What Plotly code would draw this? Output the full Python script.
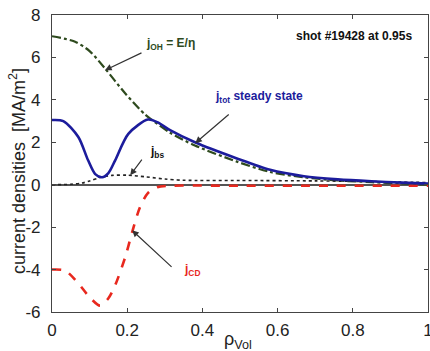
import plotly.graph_objects as go

# --- data ---
rho_tot = [0, 0.03, 0.07, 0.096, 0.115, 0.133, 0.15, 0.168, 0.203, 0.255, 0.28, 0.314, 0.38, 0.49, 0.58, 0.67, 0.76, 0.85, 0.93, 1.0]
j_tot = [3.05, 3.0, 2.25, 1.15, 0.5, 0.35, 0.55, 1.15, 2.4, 3.07, 2.95, 2.57, 2.0, 1.25, 0.7, 0.4, 0.25, 0.16, 0.1, 0.05]

rho_oh = [0, 0.06, 0.1, 0.14, 0.195, 0.248, 0.27, 0.314, 0.38, 0.49, 0.58, 0.67, 0.76, 0.85, 0.93, 1.0]
j_oh = [7.0, 6.75, 6.3, 5.5, 4.3, 3.3, 3.0, 2.45, 1.85, 1.1, 0.6, 0.35, 0.2, 0.12, 0.06, 0.0]

rho_bs = [0, 0.05, 0.08, 0.1, 0.13, 0.16, 0.2, 0.25, 0.3, 0.35, 0.5, 0.7, 0.85, 1.0]
j_bs = [0, 0.02, 0.08, 0.18, 0.35, 0.44, 0.45, 0.37, 0.27, 0.21, 0.2, 0.18, 0.15, 0.1]

rho_cd = [0, 0.035, 0.07, 0.1, 0.128, 0.15, 0.168, 0.195, 0.213, 0.234, 0.255, 0.28, 0.32, 0.5, 0.75, 1.0]
j_cd = [-4.0, -4.05, -4.65, -5.3, -5.7, -5.35, -4.74, -3.4, -2.25, -1.06, -0.4, -0.12, -0.05, -0.05, -0.05, -0.05]

x_ticks = [0, 0.2, 0.4, 0.6, 0.8, 1]
x_ticklabels = ["0", "0.2", "0.4", "0.6", "0.8", "1"]
y_ticks = [-6, -4, -2, 0, 2, 4, 6, 8]
y_ticklabels = ["-6", "-4", "-2", "0", "2", "4", "6", "8"]

FONT = "Liberation Sans, Arial, sans-serif"

fig = go.Figure()
fig.add_trace(go.Scatter(x=rho_oh, y=j_oh, mode="lines", line=dict(color="#2e4a1e", width=2.2, dash="dashdot", shape="spline", smoothing=0.8)))
fig.add_trace(go.Scatter(x=rho_bs, y=j_bs, mode="lines", line=dict(color="#222222", width=1.6, dash="dot", shape="spline", smoothing=0.8)))
fig.add_trace(go.Scatter(x=rho_cd, y=j_cd, mode="lines", line=dict(color="#e8281e", width=2.6, dash="dash", shape="spline", smoothing=0.8)))
fig.add_trace(go.Scatter(x=rho_tot, y=j_tot, mode="lines", line=dict(color="#1c1c9c", width=2.6, shape="spline", smoothing=0.8)))

ann = []
def label(x, y, text, color, anchor="left", size=12):
    ann.append(dict(x=x, y=y, xref="x", yref="y", text=text, showarrow=False,
                    xanchor=anchor, yanchor="middle",
                    font=dict(family=FONT, size=size, color=color)))

def arrow(xh, yh, xt, yt):
    ann.append(dict(x=xh, y=yh, ax=xt, ay=yt, xref="x", yref="y", axref="x", ayref="y",
                    text="", showarrow=True, arrowhead=2, arrowsize=1.1, arrowwidth=1.2,
                    arrowcolor="#333333"))

label(0.245, 6.63, "<b>j<sub>OH</sub> = E/η</b>", "#2e4a1e")
label(0.429, 4.13, "<b>j<sub>tot</sub> steady state</b>", "#1c1c9c")
label(0.256, 1.53, "<b>j<sub>bs</sub></b>", "#111111")
label(0.346, -4.03, "<b>j<sub>CD</sub></b>", "#e8281e")
label(0.964, 7.0, "<b>shot #19428 at 0.95s</b>", "#111111", anchor="right")
arrow(0.141, 5.40, 0.242, 6.25)
arrow(0.381, 1.96, 0.474, 3.37)
arrow(0.208, 0.45, 0.242, 1.25)
arrow(0.213, -2.15, 0.322, -3.94)

# axis titles
ann.append(dict(x=0.495, y=-0.095, xref="paper", yref="paper", text="ρ<sub>Vol</sub>",
                showarrow=False, xanchor="center", yanchor="middle",
                font=dict(family=FONT, size=18, color="#222222")))
ann.append(dict(x=-0.09, y=0.475, xref="paper", yref="paper",
                text="current densities  [MA/m<sup>2</sup>]", textangle=-90,
                showarrow=False, xanchor="center", yanchor="middle",
                font=dict(family=FONT, size=18, color="#222222")))

fig.update_layout(
    width=430, height=351,
    margin=dict(l=52, r=2, t=15, b=39, autoexpand=False),
    paper_bgcolor="white", plot_bgcolor="white",
    showlegend=False,
    font=dict(family=FONT, color="#222222"),
    annotations=ann,
    xaxis=dict(range=[0, 1], tickvals=x_ticks, ticktext=x_ticklabels, ticks="inside", ticklen=4,
               tickcolor="#444", showline=True, linecolor="#444", linewidth=1.2, mirror="ticks",
               showgrid=False, zeroline=False, tickfont=dict(size=17, family=FONT, color="#222222"),
               automargin=False, ticklabelstandoff=2, ticklabeloverflow="allow"),
    yaxis=dict(range=[-6, 8], tickvals=y_ticks, ticktext=y_ticklabels, ticks="inside", ticklen=4,
               tickcolor="#444", showline=True, linecolor="#444", linewidth=1.2, mirror="ticks",
               showgrid=False, zeroline=True, zerolinecolor="#555", zerolinewidth=1.5,
               tickfont=dict(size=17, family=FONT, color="#222222"),
               automargin=False, ticklabelstandoff=7, ticklabeloverflow="allow"),
)

fig.write_html("out.html", config={"displayModeBar": False},
               post_script="document.body.style.margin='0';document.body.style.padding='0';")
